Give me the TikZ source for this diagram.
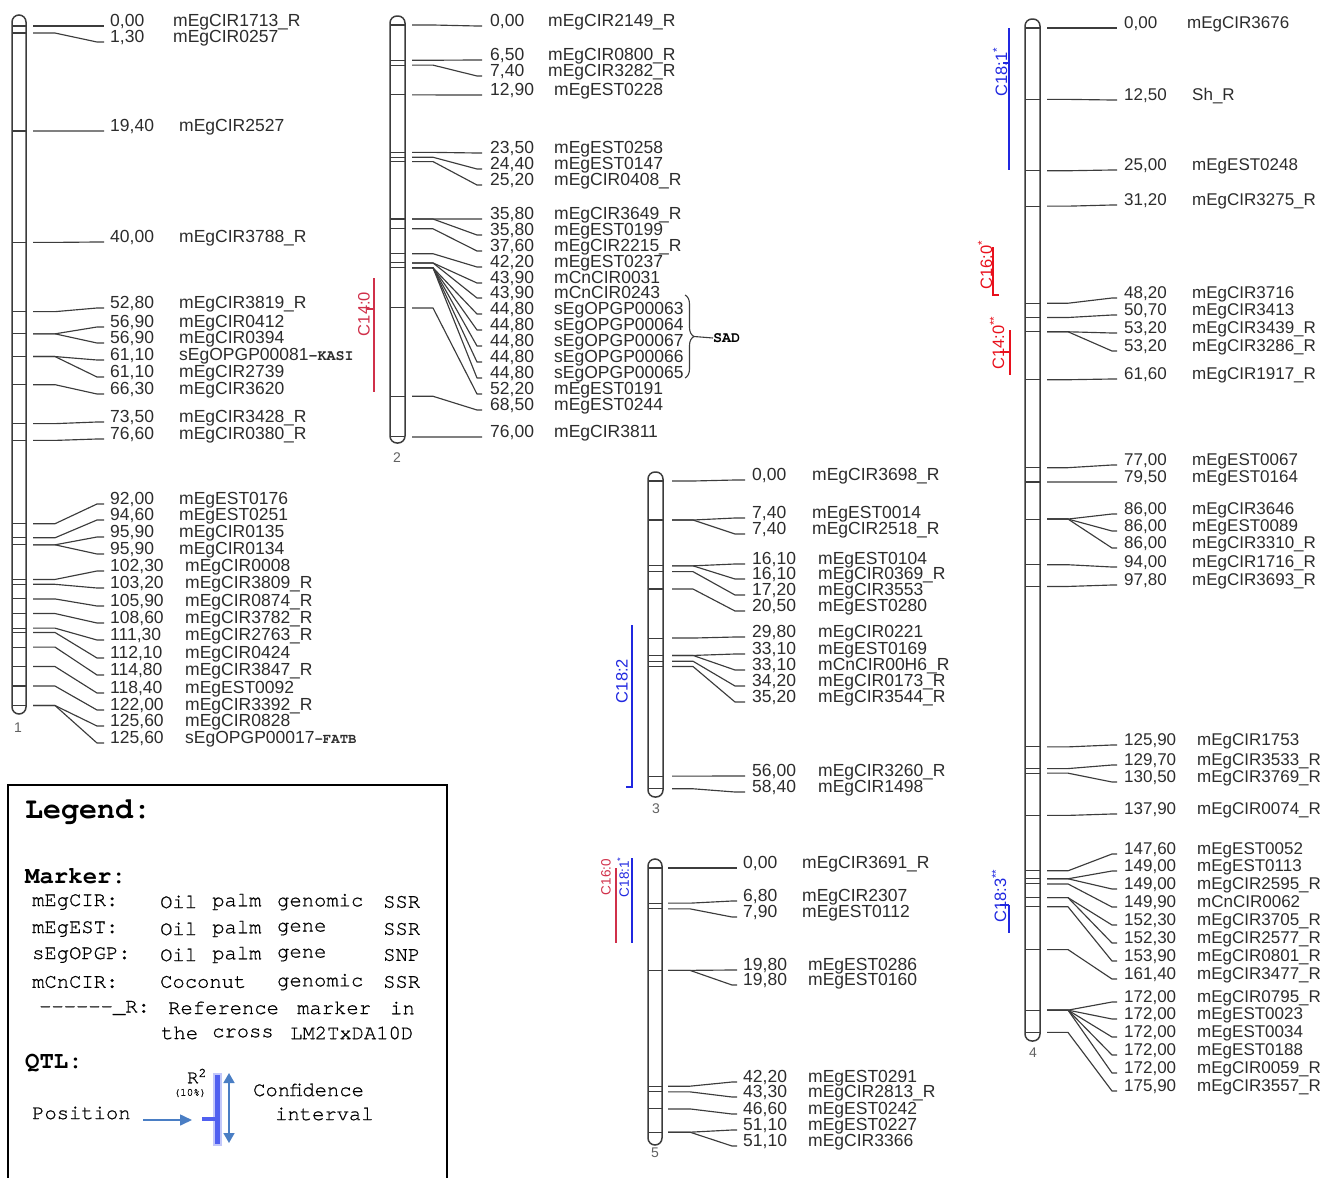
\documentclass[tikz,border=0pt]{standalone}
\usepackage{fontspec}
\setmainfont{Liberation Sans}
\newfontfamily\cour{TeX Gyre Cursor}
\newfontfamily\courleg{TeX Gyre Cursor}[FakeBold=0.8]
\usetikzlibrary{decorations.pathreplacing,arrows.meta}
\definecolor{ink}{HTML}{2C2C2C}
\definecolor{lnk}{HTML}{3C3C3C}
\definecolor{qtlredA}{HTML}{D0304A}
\definecolor{qtlredB}{HTML}{E8101C}
\definecolor{qtlblue}{HTML}{2028E0}
\definecolor{legblue}{HTML}{4A7EC4}
\definecolor{glowblue}{HTML}{5060F0}
\DeclareRobustCommand\kasi{{\cour\bfseries\fontsize{15}{15}\selectfont-KASI}}
\DeclareRobustCommand\fatb{{\cour\bfseries\fontsize{14}{14}\selectfont-FATB}}
\pgfkeys{/pgf/number format/.cd,fixed,fixed zerofill,precision=2,use comma,assume math mode=true}
\newcommand\LGfs{17.5}
\tikzset{
  chrom/.style={draw=lnk,line width=1.5pt,rounded corners=7pt},
  barline/.style={draw=lnk,line width=1.1pt},
  conn/.style={draw=lnk,line width=1.15pt,line join=round},
  mtxt/.style={anchor=base west,inner sep=0pt,text=ink,font=\fontsize{\LGfs}{18}\selectfont},
  lgnum/.style={inner sep=0pt,text=ink!75,font=\fontsize{14}{14}\selectfont},
  qline/.style={line width=1.8pt},
  qtxt/.style={rotate=90,inner sep=0pt,font=\fontsize{16.5}{16.5}\selectfont},
  qtxtsmall/.style={rotate=90,inner sep=0pt,font=\fontsize{13.5}{13.5}\selectfont},
  legtxt/.style={anchor=west,inner sep=0pt,font=\courleg\fontsize{20.5}{21}\selectfont},
  leghead/.style={anchor=west,inner sep=0pt,font=\cour\bfseries\fontsize{24}{24}\selectfont},
}
\newcommand\linkagegroup[2]{%
  \draw[chrom] (\LGbl,\LGtop) rectangle (\LGbr,\LGbot);
  \foreach \cm/\yl/\nm [count=\i] in {#2} {
    \pgfmathsetmacro\yc{\LGyo+\LGsc*\cm}
    \pgfmathsetmacro\ly{\yl+6}
    \pgfmathsetmacro\nx{\LGnx+\LGno+((\cm<10)?0:((\cm<100)?\LGinc:2*\LGinc))}
    \draw[barline] (\LGbl,\yc) -- (\LGbr,\yc);
    \coordinate (#1s\i) at (\LGa,\yc);
    \coordinate (#1e\i) at (\LGd,\ly);
    \node[mtxt] (#1n\i) at (\LGnx,\ly) {\pgfmathprintnumber{\cm}};
    \node[mtxt] (#1m\i) at (\nx,\ly) {\nm};
    \draw[conn] (#1s\i) -- (\LGb,\yc) -- (\LGc,\ly) -- (#1e\i);
  }%
}
\begin{document}
\begin{tikzpicture}[x=1pt,y=-1pt]
\useasboundingbox (0,0) rectangle (1323,1178);
\clip (0,0) rectangle (1323,1178);
\def\LGinc{6}
% ---------- LG1
\def\LGbl{12}\def\LGbr{26}\def\LGtop{15}\def\LGbot{714}
\def\LGyo{26}\def\LGsc{5.41}
\def\LGa{33}\def\LGb{55}\def\LGc{97}\def\LGd{104}
\def\LGnx{110}\def\LGno{63}
\linkagegroup{A}{0.00/20/mEgCIR1713\_R,1.30/36/mEgCIR0257,19.40/125/mEgCIR2527,40.00/236/mEgCIR3788\_R,
52.80/302/mEgCIR3819\_R,56.90/321/mEgCIR0412,56.90/337/mEgCIR0394,61.10/354/sEgOPGP00081\kasi,
61.10/371/mEgCIR2739,66.30/388/mEgCIR3620,73.50/416/mEgCIR3428\_R,76.60/433/mEgCIR0380\_R,
92.00/498/mEgEST0176,94.60/514/mEgEST0251,95.90/531/mEgCIR0135,95.90/548/mEgCIR0134,
102.30/565/mEgCIR0008,103.20/582/mEgCIR3809\_R,105.90/600/mEgCIR0874\_R,108.60/617/mEgCIR3782\_R,
111.30/634/mEgCIR2763\_R,112.10/652/mEgCIR0424,114.80/669/mEgCIR3847\_R,118.40/687/mEgEST0092,
122.00/704/mEgCIR3392\_R,125.60/720/mEgCIR0828,125.60/737/sEgOPGP00017\fatb}
\node[lgnum] (chrA) at (18,728) {1};
% ---------- LG2
\def\LGbl{390}\def\LGbr{405}\def\LGtop{16}\def\LGbot{443}
\def\LGyo{25}\def\LGsc{5.42}
\def\LGa{412}\def\LGb{433}\def\LGc{477}\def\LGd{482}
\def\LGnx{490}\def\LGno{58}
\linkagegroup{B}{0.00/20/mEgCIR2149\_R,6.50/54/mEgCIR0800\_R,7.40/70/mEgCIR3282\_R,12.90/89/mEgEST0228,
23.50/147/mEgEST0258,24.40/163/mEgEST0147,25.20/179/mEgCIR0408\_R,35.80/213/mEgCIR3649\_R,
35.80/229/mEgEST0199,37.60/245/mEgCIR2215\_R,42.20/261/mEgEST0237,43.90/277/mCnCIR0031,
43.90/292/mCnCIR0243,44.80/308/sEgOPGP00063,44.80/324/sEgOPGP00064,44.80/340/sEgOPGP00067,
44.80/356/sEgOPGP00066,44.80/372/sEgOPGP00065,52.20/388/mEgEST0191,68.50/404/mEgEST0244,
76.00/431/mEgCIR3811}
\node[lgnum] (chrB) at (397,458) {2};
\draw[lnk,line width=1.1pt,decorate,decoration={brace,amplitude=9pt}] (685,295) -- (685,378);
\coordinate (sadA) at (694,336.5);
\node[anchor=west,inner sep=0pt,font=\cour\bfseries\fontsize{15}{15}\selectfont] (sad) at (713,338) {SAD};
\draw[lnk,line width=1.1pt] (sadA) -- (sad.west);
% QTL C14:0 near LG2
\draw[qline,qtlredA] (374,278) -- (374,392);
\draw[qline,qtlredA] (367,309) -- (374,309);
\node[qtxt,text=qtlredA] (qA) at (364,314) {C14:0};
% ---------- LG3
\def\LGbl{648}\def\LGbr{663}\def\LGtop{472}\def\LGbot{797}
\def\LGyo{481}\def\LGsc{5.27}
\def\LGa{672}\def\LGb{693}\def\LGc{735}\def\LGd{745}
\def\LGnx{752}\def\LGno{60}
\linkagegroup{C}{0.00/474/mEgCIR3698\_R,7.40/512/mEgEST0014,7.40/528/mEgCIR2518\_R,16.10/558/mEgEST0104,
16.10/573/mEgCIR0369\_R,17.20/589/mEgCIR3553,20.50/605/mEgEST0280,29.80/631/mEgCIR0221,
33.10/648/mEgEST0169,33.10/664/mCnCIR00H6\_R,34.20/680/mEgCIR0173\_R,35.20/696/mEgCIR3544\_R,
56.00/770/mEgCIR3260\_R,58.40/786/mEgCIR1498}
\node[lgnum] (chrC) at (656,809) {3};
\draw[qline,qtlblue] (632,625) -- (632,787) -- (626,787);
\node[qtxt,text=qtlblue] (qB) at (622,681) {C18:2};
% ---------- LG5
\def\LGbl{648}\def\LGbr{662}\def\LGtop{859}\def\LGbot{1145}
\def\LGyo{868}\def\LGsc{5.17}
\def\LGa{668}\def\LGb{690}\def\LGc{732}\def\LGd{737}
\def\LGnx{743}\def\LGno{59}
\linkagegroup{E}{0.00/862/mEgCIR3691\_R,6.80/895/mEgCIR2307,7.90/911/mEgEST0112,19.80/964/mEgEST0286,
19.80/979/mEgEST0160,42.20/1076/mEgEST0291,43.30/1091/mEgCIR2813\_R,46.60/1108/mEgEST0242,
51.10/1124/mEgEST0227,51.10/1140/mEgCIR3366}
\node[lgnum] (chrE) at (655,1153) {5};
\draw[qline,qtlredA] (616,868) -- (616,943);
\node[qtxtsmall,text=qtlredA] (qC) at (606,877) {C16:0};
\draw[qline,qtlblue] (632,858) -- (632,943);
\node[qtxtsmall,text=qtlblue] (qD) at (623,877) {C18:1\textsuperscript{*}};
% ---------- LG4
\renewcommand\LGfs{17}
\def\LGinc{5}
\def\LGbl{1025}\def\LGbr{1040}\def\LGtop{19}\def\LGbot{1041}
\def\LGyo{28}\def\LGsc{5.71}
\def\LGa{1047}\def\LGb{1068}\def\LGc{1112}\def\LGd{1117}
\def\LGnx{1124}\def\LGno{63}
\linkagegroup{D}{0.00/22/mEgCIR3676,12.50/94/Sh\_R,25.00/164/mEgEST0248,31.20/199/mEgCIR3275\_R,
48.20/292/mEgCIR3716,50.70/309/mEgCIR3413,53.20/327/mEgCIR3439\_R,53.20/345/mEgCIR3286\_R,
61.60/373/mEgCIR1917\_R,77.00/459/mEgEST0067,79.50/476/mEgEST0164,86.00/508/mEgCIR3646,
86.00/525/mEgEST0089,86.00/542/mEgCIR3310\_R,94.00/561/mEgCIR1716\_R,97.80/579/mEgCIR3693\_R,
125.90/739/mEgCIR1753,129.70/759/mEgCIR3533\_R,130.50/776/mEgCIR3769\_R,137.90/808/mEgCIR0074\_R,
147.60/848/mEgEST0052,149.00/865/mEgEST0113,149.00/883/mEgCIR2595\_R,149.90/901/mCnCIR0062,
152.30/919/mEgCIR3705\_R,152.30/937/mEgCIR2577\_R,153.90/955/mEgCIR0801\_R,161.40/973/mEgCIR3477\_R,
172.00/996/mEgCIR0795\_R,172.00/1013/mEgEST0023,172.00/1031/mEgEST0034,172.00/1049/mEgEST0188,
172.00/1067/mEgCIR0059\_R,175.90/1085/mEgCIR3557\_R}
\node[lgnum] (chrD) at (1033,1053) {4};
\draw[qline,qtlblue] (1009,28) -- (1009,170);
\draw[qline,qtlblue] (1003,63) -- (1009,63);
\node[qtxt,text=qtlblue] (qE) at (1000,72) {C18:1\textsuperscript{*}};
\draw[qline,qtlredB] (993,247) -- (993,295) -- (999,295);
\node[qtxt,text=qtlredB] (qF) at (985,265) {C16:0\textsuperscript{*}};
\draw[qline,qtlredB] (1010,330) -- (1010,375);
\draw[qline,qtlredB] (1000,352) -- (1010,352);
\node[qtxt,text=qtlredB] (qG) at (997,343) {C14:0\textsuperscript{**}};
\draw[qline,qtlblue] (1009,905) -- (1009,933);
\draw[qline,qtlblue] (1000,905) -- (1009,905);
\node[qtxt,text=qtlblue] (qH) at (999,896) {C18:3\textsuperscript{**}};
% ---------- Legend
\draw[black,line width=1.3pt] (8,1185) -- (8,785) -- (447,785) -- (447,1185);
\node[anchor=west,inner sep=0pt,font=\cour\bfseries\fontsize{30}{30}\selectfont] (lgT) at (25,812) {Legend:};
\node[leghead] (lgM) at (25,876) {Marker:};
\foreach \x/\y/\w [count=\k] in {32/902/mEgCIR:,160/902/Oil,212/902/palm,277/902/genomic,383/902/SSR,
  32/929/mEgEST:,160/929/Oil,212/929/palm,277/929/gene,383/929/SSR,
  32/955/sEgOPGP:,160/955/Oil,212/955/palm,277/955/gene,383/955/SNP,
  32/982/mCnCIR:,160/982/Coconut,277/982/genomic,383/982/SSR,
  39/1008/{-{}-{}-{}-{}-{}-\_R:},168/1008/Reference,297/1008/marker,390/1008/in,
  161/1033/the,212/1033/cross,290/1033/LM2TxDA10D}
  \node[legtxt] (lw\k) at (\x,\y) {\w};
\node[leghead] (lgQ) at (25,1063) {QTL:};
\node[legtxt] (lgP) at (32,1113) {Position};
\node[legtxt] (lgC) at (253,1090) {Confidence};
\node[legtxt] (lgI) at (275,1114) {interval};
\node[inner sep=0pt,font=\courleg\fontsize{19}{19}\selectfont] (lgR) at (197,1076) {R\textsuperscript{2}};
\node[inner sep=0pt,font=\courleg\fontsize{11}{11}\selectfont] (lgPct) at (190,1093) {(10\%)};
\draw[glowblue!35,line width=9pt] (217,1073) -- (217,1146);
\draw[glowblue,line width=5pt] (217,1075) -- (217,1144);
\draw[glowblue,line width=3.5pt] (202,1119) -- (217,1119);
\coordinate (ciT) at (229,1073);
\coordinate (ciB) at (229,1143);
\draw[legblue,line width=1.6pt,{Triangle[length=10pt,width=11pt]}-{Triangle[length=10pt,width=11pt]}] (ciT) -- (ciB);
\coordinate (pA) at (143,1120);
\coordinate (pB) at (192,1120);
\draw[legblue,line width=1.6pt,-{Triangle[length=12pt,width=11pt]}] (pA) -- (pB);
\end{tikzpicture}
\end{document}
